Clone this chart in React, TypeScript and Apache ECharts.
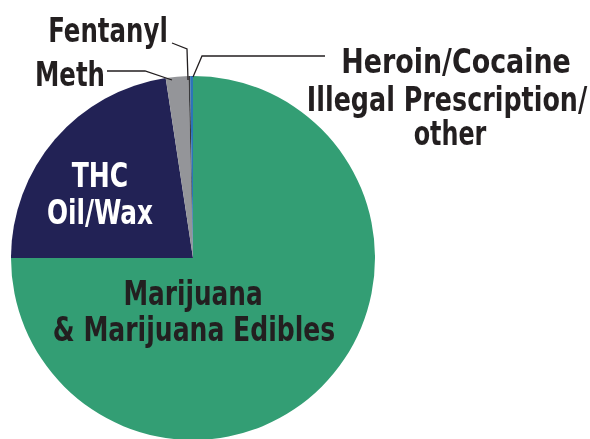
import React, { useEffect, useRef } from "react";
import * as echarts from "echarts";

const categories = [
  "Marijuana & Marijuana Edibles",
  "THC Oil/Wax",
  "Meth",
  "Fentanyl",
  "Heroin/Cocaine Illegal Prescription/ other",
];
const values = [75.0, 22.6, 2.0, 0.15, 0.25];
const colors = ["#339e74", "#222255", "#949599", "#3a3a3c", "#2c74b9"];

const FONT = "'DejaVu Sans Condensed', 'Liberation Sans Narrow', sans-serif";
const DARK = "#231f20";

export default function App() {
  const ref = useRef<HTMLDivElement>(null);
  useEffect(() => {
    if (!ref.current) return;
    const chart = echarts.init(ref.current, undefined, { renderer: "svg" });
    const txt = (x: number, y: number, text: string, sx: number, fill = DARK) => ({
      type: "text",
      x,
      y,
      z: 100,
      scaleX: sx,
      style: {
        text,
        fill,
        font: `bold 34px ${FONT}`,
        textAlign: "center",
        textVerticalAlign: "middle",
      },
    });
    const line = (points: number[][]) => ({
      type: "polyline",
      z: 100,
      shape: { points },
      style: { stroke: "#231f20", lineWidth: 1.3, fill: "none" },
    });
    chart.setOption({
      animation: false,
      series: [
        {
          type: "pie",
          center: [193, 258],
          radius: [0, 182],
          startAngle: 90,
          clockwise: true,
          label: { show: false },
          labelLine: { show: false },
          emphasis: { disabled: true },
          itemStyle: { borderWidth: 0 },
          data: categories.map((name, i) => ({
            name,
            value: values[i],
            itemStyle: { color: colors[i] },
          })),
        },
      ],
      graphic: [
        txt(108, 30, "Fentanyl", 0.8),
        txt(70, 74, "Meth", 0.8),
        txt(456, 61, "Heroin/Cocaine", 0.88),
        txt(447, 99, "Illegal Prescription/", 0.83),
        txt(450, 133, "other", 0.78),
        txt(100, 175, "THC", 0.82, "#ffffff"),
        txt(100, 212, "Oil/Wax", 0.81, "#ffffff"),
        txt(193, 293, "Marijuana", 0.81),
        txt(194, 329, "& Marijuana Edibles", 0.82),
        line([[172, 43], [187, 49], [188, 80]]),
        line([[107, 71], [145, 71], [172, 80]]),
        line([[325, 56], [202, 56], [193, 77]]),
      ],
    });
    return () => chart.dispose();
  }, []);
  return (
    <div
      ref={ref}
      style={{ position: "fixed", left: 0, top: 0, width: 590, height: 439 }}
    />
  );
}
